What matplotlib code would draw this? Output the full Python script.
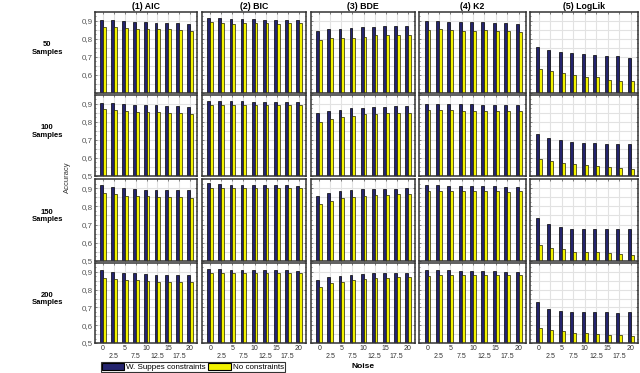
import numpy as np
import matplotlib
matplotlib.use('Agg')
import matplotlib.pyplot as plt
from matplotlib.patches import Patch

noise = [0, 2.5, 5, 7.5, 10, 12.5, 15, 17.5, 20]
samples = [50, 100, 150, 200]
methods = ['(1) AIC', '(2) BIC', '(3) BDE', '(4) K2', '(5) LogLik']

# accuracy with Suppes constraints (one row per sample size)
aic_sup = [[0.907, 0.904, 0.898, 0.892, 0.892, 0.890, 0.887, 0.887, 0.885],
           [0.907, 0.904, 0.900, 0.896, 0.896, 0.893, 0.889, 0.889, 0.885],
           [0.915, 0.904, 0.900, 0.896, 0.892, 0.891, 0.891, 0.887, 0.887],
           [0.909, 0.902, 0.894, 0.891, 0.887, 0.885, 0.883, 0.883, 0.881]]
bic_sup = [[0.919, 0.915, 0.911, 0.911, 0.909, 0.908, 0.904, 0.904, 0.904],
           [0.919, 0.919, 0.915, 0.915, 0.913, 0.913, 0.913, 0.913, 0.913],
           [0.927, 0.921, 0.919, 0.919, 0.919, 0.915, 0.915, 0.915, 0.911],
           [0.919, 0.919, 0.913, 0.913, 0.913, 0.909, 0.909, 0.909, 0.906]]
bde_sup = [[0.847, 0.853, 0.857, 0.860, 0.864, 0.868, 0.872, 0.872, 0.875],
           [0.851, 0.863, 0.868, 0.876, 0.879, 0.883, 0.883, 0.887, 0.887],
           [0.858, 0.872, 0.883, 0.887, 0.894, 0.896, 0.896, 0.896, 0.900],
           [0.854, 0.869, 0.878, 0.885, 0.889, 0.893, 0.893, 0.893, 0.893]]
k2_sup = [[0.900, 0.900, 0.896, 0.892, 0.892, 0.892, 0.891, 0.887, 0.885],
          [0.902, 0.902, 0.902, 0.898, 0.898, 0.896, 0.896, 0.894, 0.893],
          [0.915, 0.915, 0.913, 0.913, 0.909, 0.909, 0.909, 0.906, 0.906],
          [0.909, 0.909, 0.909, 0.906, 0.906, 0.904, 0.904, 0.900, 0.900]]
loglik_sup = [[0.758, 0.740, 0.730, 0.721, 0.715, 0.711, 0.708, 0.704, 0.696],
              [0.736, 0.711, 0.700, 0.689, 0.685, 0.681, 0.678, 0.678, 0.678],
              [0.737, 0.701, 0.687, 0.678, 0.678, 0.674, 0.674, 0.674, 0.674],
              [0.728, 0.689, 0.681, 0.676, 0.672, 0.672, 0.672, 0.669, 0.672]]

# accuracy with no constraints
aic_none = [[0.866, 0.866, 0.860, 0.858, 0.857, 0.857, 0.853, 0.849, 0.845],
            [0.872, 0.864, 0.861, 0.857, 0.855, 0.853, 0.851, 0.848, 0.844],
            [0.873, 0.866, 0.858, 0.854, 0.854, 0.851, 0.849, 0.849, 0.847],
            [0.867, 0.859, 0.856, 0.852, 0.850, 0.844, 0.844, 0.841, 0.841]]
bic_none = [[0.892, 0.889, 0.885, 0.887, 0.887, 0.887, 0.881, 0.887, 0.887],
            [0.896, 0.896, 0.896, 0.896, 0.896, 0.896, 0.896, 0.896, 0.896],
            [0.902, 0.900, 0.900, 0.898, 0.902, 0.902, 0.900, 0.902, 0.900],
            [0.893, 0.896, 0.896, 0.896, 0.896, 0.896, 0.896, 0.896, 0.896]]
bde_none = [[0.794, 0.806, 0.808, 0.808, 0.813, 0.821, 0.821, 0.823, 0.823],
            [0.801, 0.818, 0.827, 0.835, 0.842, 0.844, 0.848, 0.851, 0.851],
            [0.813, 0.830, 0.843, 0.851, 0.854, 0.860, 0.862, 0.868, 0.870],
            [0.813, 0.835, 0.844, 0.854, 0.859, 0.863, 0.865, 0.869, 0.869]]
k2_none = [[0.851, 0.855, 0.851, 0.847, 0.847, 0.851, 0.845, 0.843, 0.840],
           [0.866, 0.866, 0.868, 0.863, 0.863, 0.863, 0.861, 0.861, 0.859],
           [0.883, 0.883, 0.885, 0.883, 0.883, 0.883, 0.883, 0.881, 0.883],
           [0.878, 0.881, 0.881, 0.881, 0.881, 0.881, 0.881, 0.881, 0.881]]
loglik_none = [[0.634, 0.625, 0.613, 0.598, 0.591, 0.589, 0.575, 0.568, 0.564],
               [0.597, 0.584, 0.573, 0.567, 0.560, 0.554, 0.549, 0.543, 0.539],
               [0.589, 0.570, 0.564, 0.551, 0.551, 0.547, 0.543, 0.538, 0.534],
               [0.583, 0.574, 0.565, 0.556, 0.556, 0.552, 0.543, 0.543, 0.539]]

sup = [aic_sup, bic_sup, bde_sup, k2_sup, loglik_sup]
none = [aic_none, bic_none, bde_none, k2_none, loglik_none]

W, H = 640, 373
navy = '#24246e'
yellow = '#f2f200'

cols = [(95, 197), (202, 306), (311, 415), (419, 526), (530, 638)]
rows = [(12, 93), (95, 176), (179, 261), (263, 343)]

plt.rcParams['font.family'] = ['Liberation Sans', 'DejaVu Sans']
fig = plt.figure(figsize=(W / 100, H / 100), dpi=100)

x = np.arange(len(noise))
bw = 0.26
xlabels = [('\n' if i % 2 else '') + ('%g' % n) for i, n in enumerate(noise)]

for r, (t, b) in enumerate(rows):
    for c, (l, rr) in enumerate(cols):
        ax = fig.add_axes([l / W, 1 - b / H, (rr - l) / W, (b - t) / H])
        ax.set_axisbelow(True)
        ax.bar(x - bw / 2, sup[c][r], bw, color=navy,
               edgecolor='black', linewidth=0.5)
        ax.bar(x + bw / 2, none[c][r], bw, color=yellow,
               edgecolor='#222200', linewidth=0.5)
        ax.set_xlim(-0.75, 8.65)
        ax.set_ylim(0.5, 0.95)
        ax.set_yticks(np.arange(0.5, 0.91, 0.1))
        ax.set_yticks(np.arange(0.5, 0.951, 0.025), minor=True)
        ax.set_xticks(x)
        ax.grid(True, which='major', color='#e2e2e2', linewidth=0.8)
        for yv in np.arange(0.55, 0.95, 0.1):
            ax.axhline(yv, color='#e2e2e2', linewidth=0.8, zorder=0)
        ax.tick_params(which='both', direction='in', top=True, right=True,
                       length=1.5, width=0.5, colors='#555555',
                       labelsize=5.8, pad=1.5)
        ax.tick_params(which='minor', length=1)
        for s in ax.spines.values():
            s.set_color('#333333')
            s.set_linewidth(1.1)
        if c == 0:
            labs = ['%.1f' % v for v in np.arange(0.5, 0.91, 0.1)]
            labs = [s.replace('.', ',') for s in labs]
            if r == 0:
                labs[0] = ''
            ax.set_yticklabels(labs, color='#555555')
        else:
            ax.set_yticklabels([])
        if r == len(rows) - 1:
            ax.set_xticklabels(xlabels, fontsize=5, color='#333333',
                               linespacing=1.2)
        else:
            ax.set_xticklabels([])
        if r == 0:
            ax.set_title(methods[c], fontsize=6.3, fontweight='bold', pad=2.5)
    fig.text(47 / W, 1 - ((t + b) / 2 - 4) / H, '%d\nSamples' % samples[r],
             ha='center', va='center', fontsize=5.5, fontweight='bold',
             linespacing=1.1)

fig.text(67 / W, 1 - 177 / H, 'Accuracy', rotation=90, ha='center',
         va='center', fontsize=5.5, color='#333333')
fig.text(363 / W, 1 - 367 / H, 'Noise', ha='center', va='center',
         fontsize=6, fontweight='bold')

handles = [Patch(facecolor=navy, edgecolor='black', linewidth=0.8),
           Patch(facecolor=yellow, edgecolor='black', linewidth=0.8)]
leg = fig.legend(handles, ['W. Suppes constraints', 'No constraints'],
                 loc='center', bbox_to_anchor=(193 / W, 1 - 367 / H),
                 ncol=2, fontsize=5.8, frameon=True, fancybox=False,
                 edgecolor='black', borderpad=0.15, handlelength=2.8,
                 handleheight=0.9, handletextpad=0.25, columnspacing=0.3,
                 borderaxespad=0)
leg.get_frame().set_linewidth(0.8)

fig.savefig('out.png', dpi=100)
